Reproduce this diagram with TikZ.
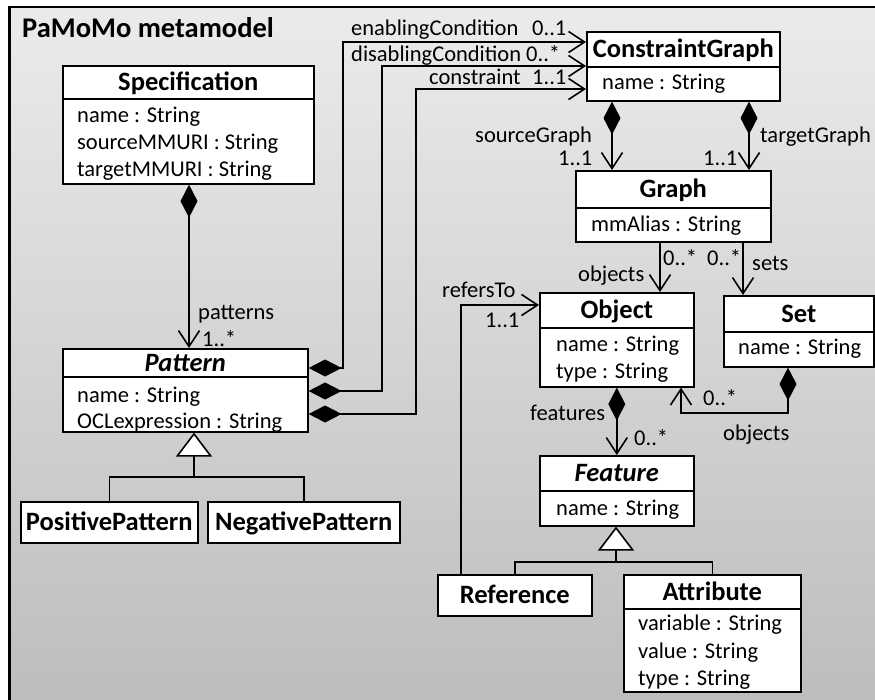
\documentclass[tikz,border=0pt]{standalone}
\usepackage{fontspec}
\setmainfont{Carlito}
\usetikzlibrary{arrows.meta}
\definecolor{bgtop}{RGB}{235,235,235}
\definecolor{bgbot}{RGB}{189,189,189}
\begin{document}
\begin{tikzpicture}[x=1pt,y=-1pt,
  every node/.style={font=\fontsize{22.5}{27}\selectfont, inner sep=0pt},
  box/.style={draw, fill=white, line width=1.6pt, anchor=north west},
  head/.style={box, font=\fontsize{26.5}{30}\selectfont\bfseries, text height=16.5pt, text depth=0pt},
  abstracthead/.style={head, font=\fontsize{26.5}{30}\selectfont\bfseries\itshape},
  attr/.style={anchor=base west},
  lbl/.style={anchor=base west},
  conn/.style={line width=1.6pt},
  assoc/.style={conn, arrows={-Straight Barb[length=16pt,width=21pt,line width=1.6pt]}},
  compos/.style={conn, arrows={Diamond[length=33pt,width=17pt]-Straight Barb[length=16pt,width=21pt,line width=1.6pt]}},
  gen/.style={conn, arrows={-Triangle[open,length=24pt,width=36pt,fill=white,line width=1.6pt]}}
]
\useasboundingbox (0,0) rectangle (875,700);

% frame with gradient background
\shade[top color=bgtop, bottom color=bgbot] (8,7) rectangle (875,700);
\draw[line width=2pt] (8,7) -- (875,7);
\draw[line width=3pt] (9,6) -- (9,700);
\node[lbl, font=\fontsize{28.5}{32}\selectfont\bfseries] (title) at (22,38) {PaMoMo metamodel};

% classes
\node[head, minimum width=251, minimum height=33] (specH) at (62,65) {Specification};
\node[box, minimum width=251, minimum height=85] (specA) at (62,98) {};
\node[attr] (specA1) at (77,123) {name : String};
\node[attr] (specA2) at (77,150) {sourceMMURI : String};
\node[attr] (specA3) at (77,177) {targetMMURI : String};

\node[abstracthead, minimum width=245, minimum height=28] (patH) at (62,348) {Pattern};
\node[box, minimum width=245, minimum height=55] (patA) at (62,376) {};
\node[attr] (patA1) at (77,402) {name : String};
\node[attr] (patA2) at (77,428) {OCLexpression : String};

\node[head, minimum width=177, minimum height=41] (pospat) at (20,501) {PositivePattern};
\node[head, minimum width=192, minimum height=41] (negpat) at (207,501) {NegativePattern};

\node[head, minimum width=193, minimum height=35] (cgH) at (586,31) {ConstraintGraph};
\node[box, minimum width=193, minimum height=34] (cgA) at (586,66) {};
\node[attr] (cgA1) at (602,90) {name : String};

\node[head, minimum width=195, minimum height=37] (gH) at (575,170) {Graph};
\node[box, minimum width=195, minimum height=34] (gA) at (575,207) {};
\node[attr] (gA1) at (591,232) {mmAlias : String};

\node[head, minimum width=154, minimum height=35] (objH) at (539,292) {Object};
\node[box, minimum width=154, minimum height=59] (objA) at (539,327) {};
\node[attr] (objA1) at (556,352) {name : String};
\node[attr] (objA2) at (556,378) {type : String};

\node[head, minimum width=150, minimum height=36] (setH) at (723,295) {Set};
\node[box, minimum width=150, minimum height=35] (setA) at (723,331) {};
\node[attr] (setA1) at (738,355) {name : String};

\node[abstracthead, minimum width=154, minimum height=35] (featH) at (539,455) {Feature};
\node[box, minimum width=154, minimum height=35] (featA) at (539,490) {};
\node[attr] (featA1) at (556,515) {name : String};

\node[head, minimum width=154, minimum height=41] (ref) at (437,574) {Reference};

\node[head, minimum width=177, minimum height=34] (attH) at (623,574) {Attribute};
\node[box, minimum width=177, minimum height=83] (attA) at (623,608) {};
\node[attr] (attA1) at (638,630) {variable : String};
\node[attr] (attA2) at (638,658) {value : String};
\node[attr] (attA3) at (638,685) {type : String};

% routing points
\coordinate (spx) at (189,0);
\coordinate (enS) at (0,368);
\coordinate (en) at (343,42);
\coordinate (diS) at (0,391);
\coordinate (di) at (382,66);
\coordinate (coS) at (0,414);
\coordinate (co) at (416,89);
\coordinate (sgx) at (612,0);
\coordinate (tgx) at (749,0);
\coordinate (gox) at (660,0);
\coordinate (gsx) at (743,0);
\coordinate (sox) at (788,0);
\coordinate (so) at (681,413);
\coordinate (rt) at (461,305);
\coordinate (pj) at (194,477);
\coordinate (fj) at (616,562);

% connectors
\draw[compos] (specA.south -| spx) -- (patH.north -| spx);
\draw[compos] (patH.east |- enS) -| (en) -- (cgH.west |- en);
\draw[compos] (patA.east |- diS) -| (di) -- (cgH.west |- di);
\draw[compos] (patA.east |- coS) -| (co) -- (cgA.west |- co);
\draw[compos] (cgA.south -| sgx) -- (gH.north -| sgx);
\draw[compos] (cgA.south -| tgx) -- (gH.north -| tgx);
\draw[assoc] (gA.south -| gox) -- (objH.north -| gox);
\draw[assoc] (gA.south -| gsx) -- (setH.north -| gsx);
\draw[compos] (setA.south -| sox) |- (so) -- (objA.south -| so);
\draw[compos] (objA.south) -- (featH.north);
\draw[assoc] (ref.north -| rt) -- (rt) -- (objH.west |- rt);
\draw[conn] (pospat.north) |- (pj) -| (negpat.north);
\draw[gen] (pj) -- (patA.south -| pj);
\draw[conn] (ref.north) |- (fj) -| (attH.north);
\draw[gen] (fj) -- (featA.south -| fj);

% role names and multiplicities
\node[lbl] (l1) at (198,320) {patterns};
\node[lbl] (l2) at (202,346) {1..*};
\node[lbl] (l3) at (351,36) {enablingCondition};
\node[lbl] (l4) at (532,36) {0..1};
\node[lbl] (l5) at (351,62) {disablingCondition 0..*};
\node[lbl] (l7) at (429,85) {constraint};
\node[lbl] (l8) at (532,85) {1..1};
\node[lbl] (l9) at (475,143) {sourceGraph};
\node[lbl] (l10) at (558,166) {1..1};
\node[lbl] (l11) at (760,143) {targetGraph};
\node[lbl] (l12) at (703,166) {1..1};
\node[lbl] (l13) at (663,266) {0..*};
\node[lbl] (l14) at (578,282) {objects};
\node[lbl] (l15) at (707,266) {0..*};
\node[lbl] (l16) at (752,271) {sets};
\node[lbl] (l17) at (442,298) {refersTo};
\node[lbl] (l18) at (485,328) {1..1};
\node[lbl] (l19) at (703,405) {0..*};
\node[lbl] (l20) at (723,440) {objects};
\node[lbl] (l21) at (530,420) {features};
\node[lbl] (l22) at (634,445) {0..*};
\end{tikzpicture}
\end{document}
